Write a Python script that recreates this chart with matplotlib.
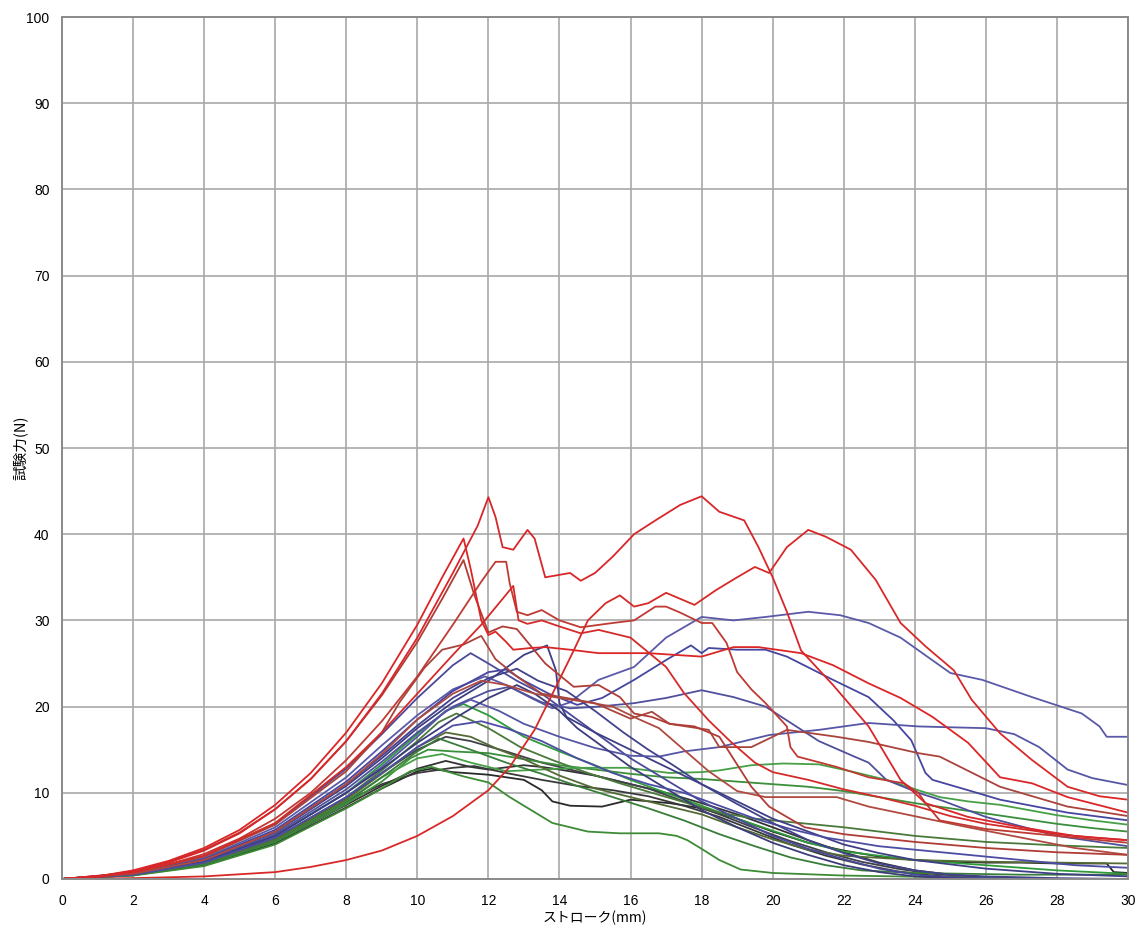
import numpy as np
import matplotlib
matplotlib.use('Agg')
import matplotlib.pyplot as plt

# ストローク(mm), 試験力(N) : 各曲線の読み取り点
red_1 = [(0,0),(1,0.3),(2,0.9),(3,1.9),(4,3.3),(5,5.3),(6,8.1),(7,11.6),(8,16),(9,21.5),(10,28),(11,35.5),
         (11.7,41),(12,44.3),(12.2,42),(12.4,38.5),(12.7,38.2),(13.1,40.5),(13.3,39.5),(13.6,35),(14.3,35.5),
         (14.6,34.6),(15,35.5),(15.5,37.4),(16.1,40),(16.7,41.6),(17.4,43.4),(18,44.4),(18.5,42.6),(19.2,41.6),
         (19.6,38.5),(20,35),(20.4,31),(20.8,26.5),(21.7,22.5),(22.7,17.7),(23.6,11.5),(24.3,8.8),(25.5,7.2),
         (27,6),(28.5,5),(30,4.5)]
red_2 = [(0,0),(2,0.1),(4,0.3),(6,0.8),(7,1.4),(8,2.2),(9,3.3),(10,5),(11,7.3),(12,10.3),(12.6,13),(13.3,17.3),
         (13.9,22.3),(14.4,26.5),(14.8,30),(15.3,32),(15.7,32.9),(16.1,31.6),(16.5,32),(17,33.2),(17.8,31.8),
         (18.4,33.5),(19,35),(19.5,36.2),(19.9,35.5),(20.4,38.5),(21,40.5),(21.5,39.7),(22.2,38.2),(22.9,34.7),
         (23.6,29.7),(24.3,27),(25.1,24.2),(25.6,20.8),(26.4,16.9),(27.3,13.8),(28.3,10.7),(29.2,9.6),(30,9.2)]
red_3 = [(0,0),(1,0.3),(2,1),(3,2.1),(4,3.6),(5,5.7),(6,8.6),(7,12.3),(8,17),(9,22.7),(10,29.5),(10.7,35),
         (11.3,39.5),(11.5,36),(11.8,30),(12,28.3),(12.2,28.7),(12.5,27.5),(12.7,26.6),(13.2,26.8),(13.6,26.9),
         (14.3,26.6),(15.1,26.2),(16.5,26.2),(18,25.8),(18.9,26.9),(19.6,26.9),(20.8,26.2),(21.7,24.8),
         (22.7,22.7),(23.6,21),(24.5,18.8),(25.5,15.8),(26.4,11.8),(27.3,11.1),(28.3,9.5),(30,7.7)]
red_4 = [(0,0),(1,0.3),(2,0.9),(3,2),(4,3.4),(5,5.4),(6,8.1),(7,11.6),(8,16),(9,21.3),(10,27.5),(10.7,32.5),
         (11.3,37),(11.6,33),(12,28.6),(12.4,29.3),(12.8,29),(13.2,27),(13.6,25),(14.4,22.3),(15.1,22.5),
         (15.7,21.1),(16.1,19.2),(16.6,18.8),(17.1,18),(17.8,17.7),(18.5,16.5),(19.4,10.7),(19.9,8.4),
         (20.9,6),(22,5.2),(24,4.3),(26,3.6),(28,3.1),(30,2.8)]
red_5 = [(0,0),(1,0.25),(2,0.8),(3,1.7),(4,2.9),(5,4.7),(6,7),(7,10),(8,13.8),(9,18.3),(10,23.5),(11,29.5),
         (11.8,34.5),(12.2,36.8),(12.5,36.8),(12.6,34.3),(12.8,31),(13.1,30.6),(13.5,31.2),(14,30),(14.6,29.2),
         (15.5,29.7),(16.1,30),(16.7,31.6),(17,31.6),(17.4,30.9),(18,29.7),(18.3,29.7),(18.7,27.4),(19,24),
         (19.4,22),(19.8,20.4),(20.4,17.7),(20.5,15.3),(20.7,14.2),(21.8,13),(22.7,11.8),(23.7,11.1),
         (24.1,10),(24.3,8.8),(24.7,6.8),(26,5.8),(28,5),(30,4.2)]
red_6 = [(0,0),(2,0.7),(4,2.6),(6,6.3),(8,12.5),(9,17),(9.5,20.5),(10.2,24.5),(10.7,26.6),(11.3,27.2),
         (11.8,28.2),(12.2,25.5),(12.8,23.5),(13.5,21.5),(14.2,21),(15,20.4),(16,18.6),(16.6,19.4),(17.1,18),
         (18.2,17.3),(18.5,15.3),(19.4,15.3),(20.4,17.3),(21.8,16.5),(22.7,15.9),(24.1,14.6),(24.7,14.2),
         (26.4,10.7),(28.3,8.4),(30,7.3)]
red_7 = [(0,0),(2,0.75),(4,2.7),(6,6.5),(8,13),(9,17),(10,21.5),(11,26),(11.8,29.5),(12.4,32.5),(12.7,34),
         (12.85,30),(13.1,29.6),(13.5,30),(14,29.3),(14.6,28.5),(15.1,28.9),(16,28),(17,24.6),(17.5,21.6),
         (18.2,18.4),(18.8,16),(19.5,13.5),(20,12.4),(21,11.5),(22,10.4),(23,9.5),(24,8.5),(25,7.3),(26,6.4),
         (27,5.8),(28,5.2),(29,4.8),(30,4.5)]
red_8 = [(0,0),(2,0.6),(4,2.2),(6,5.5),(8,11),(9,14.5),(10,18.5),(11,21.5),(11.8,23),(12.5,22.5),(13.3,21.5),
         (14,21),(14.8,20.5),(15.5,20),(16.2,18.6),(16.8,17.5),(17.5,15),(18.2,12.5),(19,10.2),(19.8,9.5),
         (21.8,9.5),(22.7,8.4),(24.1,7.2),(25.5,6),(27,4.8),(28.5,3.6),(30,2.8)]

blue_1 = [(0,0),(2,0.7),(4,2.6),(6,6.4),(8,12.8),(9,16.8),(10,21),(11,24.8),(11.5,26.2),(12,25),(12.8,23),
          (13.5,21.5),(14,20),(15,17),(16,14),(17,11.5),(18,9),(19,7),(20,5),(21,3.5),(22,2.3),(23,1.2),
          (24,0.5),(25,0.2),(27,0),(30,0)]
blue_2 = [(0,0),(2,0.6),(4,2.2),(6,5.4),(8,10.8),(9,14),(10,17.5),(11,20.5),(12,23),(12.5,24.5),(13,26),
          (13.65,27.1),(13.9,24.2),(14,20.4),(14.2,18.8),(15,17),(16,15),(17,13),(18,11),(19,9),(20,7),
          (21,5.5),(22,4),(23,3),(24,2.2),(26,1.2),(28,0.6),(30,0.3)]
blue_3 = [(0,0),(2,0.65),(4,2.4),(6,6),(8,11.8),(9,15.5),(10,19),(11,22),(11.9,23.5),(12.5,22.5),(13.2,21),
          (13.8,19.8),(14.3,20.5),(15.1,23.1),(16.1,24.6),(17,28),(18,30.4),(18.9,30),(19.8,30.4),(21,31),
          (21.9,30.6),(22.7,29.7),(23.6,28),(25,23.9),(25.9,23.1),(27.3,21.1),(28.7,19.2),(29.2,17.7),
          (29.4,16.5),(30,16.5)]
blue_4 = [(0,0),(2,0.6),(4,2.3),(6,5.7),(8,11.3),(9,14.8),(10,18.5),(11,21.8),(12,24),(12.5,24.3),(13,23),
          (13.7,21.5),(14.5,20.2),(15.2,21),(16.1,23.1),(17,25.4),(17.7,27.1),(18,26.2),(18.2,26.8),(19,26.6),
          (19.8,26.6),(20.4,25.8),(21.7,23.1),(22.7,21.1),(23.4,18.4),(23.9,16.1),(24.3,12.3),(24.5,11.5),
          (25.5,10.3),(26.4,9.2),(28.3,7.7),(30,6.8)]
blue_5 = [(0,0),(2,0.55),(4,2.1),(6,5.2),(8,10.4),(9,13.6),(10,17),(11,20),(12,21.8),(12.6,22.3),(13.5,20.5),
          (14.3,19.8),(15.1,20),(16.1,20.4),(17,21),(18,21.9),(18.9,21.1),(19.8,20),(20.4,18.4),(21.3,16),
          (22.3,14.2),(22.7,13.5),(23.2,11.5),(24.1,10),(24.7,9.2),(26,7.2),(28,5),(30,3.8)]
blue_6 = [(0,0),(2,0.5),(4,2),(6,5),(8,10),(9,13),(10,16.5),(10.8,19.5),(11.5,20.8),(12.3,19.5),(13,18),
          (14,16.5),(15,15.2),(16,14.3),(16.8,14.2),(17.5,14.8),(18.5,15.3),(19.9,16.7),(21.3,17.3),
          (22.7,18.1),(24.1,17.7),(25,17.6),(26,17.5),(26.8,16.8),(27.5,15.3),(28.3,12.7),(29,11.7),(30,10.9)]
blue_7 = [(0,0),(2,0.55),(4,2),(6,5),(8,10),(9,12.8),(10,15.8),(11,18.5),(12,21),(12.8,22.5),(13.3,21.5),
          (14,19.5),(14.5,17.5),(15,16),(16,13),(17,10.5),(18,8),(19,6),(20,4.2),(21,2.8),(22,1.6),(23,0.8),
          (24,0.3),(25,0.1),(26,0),(30,0)]
blue_8 = [(0,0),(2,0.5),(4,1.9),(6,4.8),(8,9.5),(9,12.3),(10,15.3),(11,17.8),(11.8,18.3),(12.5,17.5),
          (13.5,16),(14.5,14),(15.5,12.3),(16.5,11),(17.5,10),(18.5,8.5),(19.5,7),(20.5,5.8),(21.5,4.8),
          (23,3.8),(25,3),(27,2.2),(28.5,1.6),(30,1.3)]
blue_9 = [(0,0),(2,0.6),(4,2.2),(6,5.5),(8,11),(9,14.3),(10,17.8),(11,21),(12,23.3),(12.8,24.4),(13.4,23),
          (14.2,21.8),(15,19.5),(15.8,17),(16.5,15),(17.2,13.2),(18,11),(19,8.7),(20,6.5),(21,4.5),(22,3),
          (23,1.8),(24,1),(25,0.5),(26,0.3),(28,0.1),(30,0)]

green_1 = [(0,0),(2,0.55),(4,2),(6,5),(8,10),(9,13.3),(10,16.8),(10.8,19.5),(11.3,20.3),(12,19),(13,16.5),
           (14,14.8),(15,13.2),(16,11.5),(17,10),(18,8.5),(19,7),(20,5.6),(21,4.2),(22,3.2),(24,2.2),(26,1.6),
           (28,1),(30,0.6)]
green_2 = [(0,0),(2,0.5),(4,1.9),(6,4.7),(8,9.5),(9,12.6),(10,16),(10.6,18.2),(11.1,19.2),(12,17.5),
           (12.9,15.3),(13.8,13.8),(14.8,12.3),(15.7,11.1),(16.6,10),(17.6,8.8),(18.5,7.7),(19.5,7),
           (20.5,6.6),(22,6),(24,5),(26,4.3),(28,3.9),(30,3.6)]
green_3 = [(0,0),(2,0.45),(4,1.7),(6,4.3),(8,8.7),(9,11.3),(9.8,14),(10.3,15),(11,14.8),(12,14.6),(13,13.9),
           (14,13.2),(15,12.7),(16,12.2),(17,11.8),(18,11.6),(19,11.3),(20,11),(21,10.7),(22,10.2),(23,9.5),
           (24,8.8),(25,8.2),(26,7.6),(27,7),(28,6.4),(29,5.9),(30,5.5)]
green_4 = [(0,0),(2,0.4),(4,1.5),(6,4),(8,8.2),(9,10.5),(9.8,12.5),(10.4,13),(11.3,11.9),(12,11.2),
           (12.6,9.5),(13.2,8),(13.8,6.5),(14.8,5.5),(15.7,5.3),(16.8,5.3),(17.3,5),(17.6,4.5),(18,3.5),
           (18.5,2.2),(19.1,1.1),(20,0.7),(22,0.4),(25,0.2),(27,0),(30,0)]
green_5 = [(0,0),(2,0.45),(4,1.8),(6,4.5),(8,9),(9,11.8),(10,14),(10.7,14.5),(11.5,13.5),(12.5,12.5),
           (13.5,12.7),(14.5,12.9),(15.9,12.9),(17.1,12.3),(18,12.4),(18.5,12.6),(19.4,13.2),(20.3,13.4),
           (21.3,13.3),(22.3,12.4),(23.2,11.5),(24.1,10.3),(24.7,9.5),(25.5,9),(26.4,8.6),(28,7.4),(29,6.8),
           (30,6.3)]
green_6 = [(0,0),(2,0.5),(4,1.8),(6,4.6),(8,9.2),(9,12.2),(10,15.3),(10.8,17),(11.5,16.5),(12.3,15),
           (13,13.9),(14,12),(15,10.5),(16,9.5),(17,8.5),(18,7.5),(19,6),(20,4.6),(21,3.4),(22,2.7),(24,2.2),
           (26,2),(28,1.9),(30,1.8)]
green_7 = [(0,0),(2,0.45),(4,1.7),(6,4.4),(8,8.9),(9,11.8),(10,14.8),(10.6,16.3),(11.5,15),(12.5,13.5),
           (13.5,12.2),(14.5,10.8),(15.5,9.5),(16.5,8.2),(17.5,6.8),(18.5,5.2),(19.5,3.8),(20.5,2.5),
           (21.5,1.6),(22.5,1),(24,0.7),(27,0.5),(30,0.5)]

black_1 = [(0,0),(2,0.45),(4,1.7),(6,4.3),(8,8.6),(9,10.8),(10,12.8),(10.8,13.7),(11.5,13),(12,12.7),
           (13,13.2),(13.5,13),(14,12.7),(15,12),(16,11),(17,10),(18,8.8),(19,7.5),(20,6),(21,4.5),(22,3.1),
           (23,1.9),(24,1),(25,0.5),(26,0.2),(27,0),(30,0)]
black_2 = [(0,0),(2,0.45),(4,1.6),(6,4.1),(8,8.3),(9,10.5),(10,12.5),(10.4,12.8),(11,12.4),(12,12.1),
           (13,11.5),(13.5,10.3),(13.8,9),(14.3,8.5),(15.2,8.4),(16,9.2),(17.1,8.8),(18,8.2),(19,7),(20,5.5),
           (21,4.2),(22,3.3),(23,2.6),(24,2.2),(25,2),(26,1.9),(27,1.9),(28,1.8),(29.4,1.8),(29.6,0.8),
           (30,0.7)]
black_3 = [(0,0),(2,0.5),(4,1.8),(6,4.5),(8,9),(9,11),(10,12.3),(11,12.9),(11.6,13.1),(12.5,12.3),
           (13.5,11.5),(14.5,10.8),(15.5,10.3),(16.5,9.6),(17.5,8.5),(18.5,7.2),(19.5,5.6),(20.5,4),
           (21.5,2.7),(22.5,1.7),(23.5,0.9),(24.5,0.4),(25.5,0.15),(26.7,0),(30,0)]
black_4 = [(0,0),(2,0.5),(4,1.85),(6,4.7),(8,9.4),(9,12.3),(10,15),(10.8,16.5),(11.5,16),(12.5,14.8),
           (13.5,13.5),(14.5,12.5),(15.5,11.5),(16.5,10.5),(17.5,9),(18.5,7.5),(19.5,5.9),(20.5,4.4),
           (21.5,3.1),(22.5,2),(23.5,1.2),(24.5,0.6),(26,0.2),(28,0),(30,0)]

x_ticks = list(range(0, 31, 2))
y_ticks = list(range(0, 101, 10))

# 描画順: 黒 -> 緑 -> 青 -> 赤
curves = [
    (black_1, "#333333"), (black_2, "#2a2a2a"), (black_3, "#3a3a3a"), (black_4, "#404048"),
    (green_1, "#2f9a3a"), (green_2, "#4a7a3a"), (green_3, "#3a8f3a"), (green_4, "#3d8b35"),
    (green_5, "#47a047"), (green_6, "#556b35"), (green_7, "#3a7d3a"),
    (blue_1, "#4a4a9a"), (blue_2, "#3e3e86"), (blue_3, "#5a5aa8"), (blue_4, "#4646a0"),
    (blue_5, "#50509c"), (blue_6, "#5656a6"), (blue_7, "#3c3c7c"), (blue_8, "#4c4ca4"),
    (blue_9, "#42428c"),
    (red_8, "#b04a40"), (red_6, "#a8443c"), (red_4, "#b03c36"), (red_5, "#c03a34"),
    (red_7, "#d52a2a"), (red_3, "#dc2526"), (red_2, "#d82828"), (red_1, "#d8262a"),
]

fig = plt.figure(figsize=(11.42, 9.33), dpi=100)
ax = fig.add_axes([62/1142, 54/933, 1066/1142, 862/933])

for pts, cor in curves:
    xs = [p[0] for p in pts]
    ys = [p[1] for p in pts]
    ax.plot(xs, ys, color=cor, linewidth=1.3, solid_joinstyle='round')

ax.set_xlim(0, 30)
ax.set_ylim(0, 100)
ax.set_xticks(x_ticks)
ax.set_yticks(y_ticks)
ax.set_xticklabels([str(v) for v in x_ticks], fontsize=10, family='Liberation Sans')
ax.set_yticklabels([str(v) for v in y_ticks], fontsize=10, family='Liberation Sans')
ax.tick_params(axis='x', length=0, pad=11)
ax.tick_params(axis='y', length=0, pad=9)
ax.grid(True, color='#a8a8a8', linewidth=1.2)
ax.set_axisbelow(True)
for s in ax.spines.values():
    s.set_color('#8a8a8a')
    s.set_linewidth(1.4)

cjk = ['Noto Sans CJK JP', 'DejaVu Sans']
ax.set_xlabel("ストローク(mm)", fontsize=10, family=cjk)
ax.set_ylabel("試験力(N)", fontsize=10.5, family=cjk)
ax.xaxis.set_label_coords(0.5, (879 - 911) / 862)
ax.yaxis.set_label_coords((28 - 62) / 1066, 0.5)

plt.savefig("out.png", dpi=100)
plt.close()
